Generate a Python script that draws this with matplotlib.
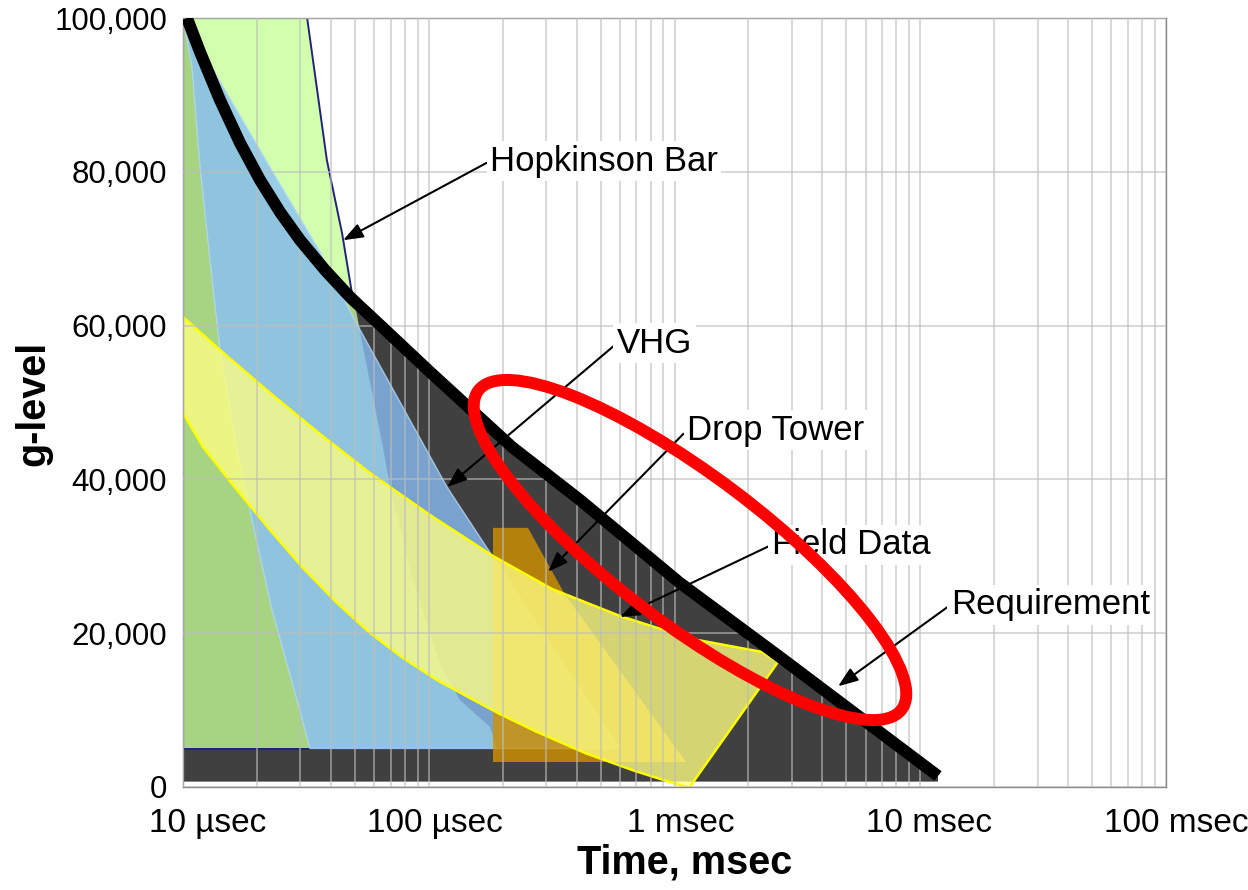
import numpy as np
import matplotlib
matplotlib.use("Agg")
import matplotlib.pyplot as plt
import matplotlib.transforms as mtransforms
from matplotlib.patches import Ellipse
from matplotlib.ticker import LogLocator, NullFormatter

plt.rcParams['font.family'] = ['Liberation Sans', 'DejaVu Sans']

# time in msec, g-level
req_t = [0.01038, 0.01173, 0.01414, 0.01706, 0.02058, 0.02481, 0.02993, 0.03783, 0.04781,
         0.06334, 0.1012, 0.2182, 0.4126, 1.053, 2.687, 11.81]
req_g = [100000, 95580, 89340, 83750, 78930, 74770, 71130, 67230, 63720,
         60080, 53970, 44210, 37320, 26530, 16900, 1430]
dark_floor = 700

hop_t = [0.01, 0.032, 0.0385, 0.0444, 0.0487, 0.0501, 0.054, 0.0593, 0.0651, 0.0696,
         0.0863, 0.111, 0.134, 0.1775, 0.19, 0.01]
hop_g = [100000, 100000, 81500, 72000, 64200, 62700, 57200, 50700, 44200, 39000,
         26900, 16100, 11300, 7800, 5000, 5000]

vhg_t = [0.01, 0.01088, 0.01173, 0.01288, 0.01414, 0.01628, 0.01909, 0.02302, 0.0291, 0.03287,
         0.60, 0.1826, 0.1187, 0.0492, 0.0361, 0.0226]
vhg_g = [100000, 93630, 80620, 68530, 56830, 45120, 34720, 23020, 11310, 5000,
         5000, 29900, 39000, 61100, 69600, 80600]

drop_t = [0.1826, 0.2534, 0.3585, 1.114, 0.1826]
drop_g = [33700, 33700, 25000, 3250, 3250]

field_upper_t = [0.01, 0.01414, 0.0226, 0.0361, 0.05767, 0.1012, 0.1826, 0.3173,
                 0.600, 1.178, 2.27, 2.637]
field_upper_g = [61120, 56830, 51240, 45900, 40830, 35370, 30040, 25750,
                 22240, 19250, 17560, 16260]
field_lower_t = [0.01, 0.01206, 0.01659, 0.0226, 0.03079, 0.04233, 0.05767, 0.07857,
                 0.108, 0.1472, 0.1949, 0.2706, 0.4323, 0.6908, 1.1455]
field_lower_g = [48630, 44210, 38620, 33420, 28480, 23930, 20030, 16780,
                 13910, 11570, 9490, 7280, 4420, 2080, -130]

x_ticks = [0.01, 0.1, 1, 10, 100]
x_labels = ['10 \u00b5sec', '100 \u00b5sec', '1 msec', '10 msec', '100 msec']
x_label_shift = [25, 6, 6, 9, 10]   # px
y_ticks = [0, 20000, 40000, 60000, 80000, 100000]

# label, text x, text y, arrow x, arrow y
notes = [
    ("Hopkinson Bar", 0.1775, 81400, 0.0448, 71100),
    ("VHG", 0.583, 57700, 0.1187, 39000),
    ("Drop Tower", 1.124, 46400, 0.306, 28000),
    ("Field Data", 2.49, 31500, 0.600, 22100),
    ("Requirement", 13.3, 23700, 4.63, 13100),
]

fig = plt.figure(figsize=(12.48, 8.9), dpi=100)
ax = fig.add_axes([183 / 1248, 1 - 787 / 890, 983 / 1248, 769 / 890])
ax.set_xscale('log')
ax.set_xlim(0.01, 100)
ax.set_ylim(0, 100000)

# dark area under requirement
ax.fill([0.01] + req_t + [req_t[-1], 0.01], [100000] + req_g + [dark_floor, dark_floor],
        color='#404040', lw=0, zorder=1.0)

# Hopkinson bar
ax.fill(hop_t, hop_g, color=(196 / 255, 1.0, 150 / 255), alpha=0.78, lw=0, zorder=1.1)
ax.plot([hop_t[-1]] + hop_t[:6], [hop_g[-1]] + hop_g[:6], color='#22227a', lw=1.4, zorder=1.15)
ax.plot(hop_t[-2:], hop_g[-2:], color='#22227a', lw=1.4, zorder=1.15)

# VHG
ax.fill(vhg_t, vhg_g, facecolor=(138 / 255, 191 / 255, 247 / 255), edgecolor='#b5d9f5',
        alpha=0.78, lw=1.0, zorder=1.2)

# Drop tower
ax.fill(drop_t, drop_g, color=(210 / 255, 146 / 255, 0), alpha=0.8, lw=0, zorder=1.3)

# Field data
field_t = field_upper_t + field_lower_t[::-1]
field_g = field_upper_g + field_lower_g[::-1]
ax.fill(field_t, field_g, facecolor=(1.0, 1.0, 130 / 255), alpha=0.78, lw=0, zorder=1.4)
ax.fill(field_t, field_g, facecolor='none', edgecolor='#ffff00', lw=1.8, zorder=1.45)

# requirement line
ax.plot(req_t, req_g, color='black', lw=8.6, solid_capstyle='butt', solid_joinstyle='round', zorder=3)

# grid and axes
ax.set_axisbelow(False)
ax.xaxis.set_minor_locator(LogLocator(base=10, subs=np.arange(2, 10)))
ax.xaxis.set_minor_formatter(NullFormatter())
ax.grid(which='both', axis='x', color='#bdbdbd', lw=1.1, alpha=0.75)
ax.grid(which='major', axis='y', color='#bdbdbd', lw=1.1, alpha=0.75)
ax.set_xticks(x_ticks)
ax.set_xticklabels(x_labels, fontsize=24)
ax.set_yticks(y_ticks)
ax.set_yticklabels([f"{v:,}" for v in y_ticks], fontsize=22.5)
ax.tick_params(which='both', length=0)
ax.tick_params(axis='x', pad=15)
ax.tick_params(axis='y', pad=11.5)
for lab, dx in zip(ax.get_xticklabels(), x_label_shift):
    lab.set_transform(lab.get_transform() + mtransforms.ScaledTranslation(dx / 100, 0, fig.dpi_scale_trans))
for sp in ax.spines.values():
    sp.set_color('#8a8a8a')
    sp.set_linewidth(1.0)

for label, tx, ty, px, py in notes:
    ax.annotate(label, xy=(px, py), xytext=(tx, ty), ha='left', va='center', fontsize=25,
                bbox=dict(boxstyle='square,pad=0.1', fc='white', ec='none'),
                arrowprops=dict(arrowstyle='-|>,head_length=0.8,head_width=0.3', color='black',
                                lw=1.5, shrinkA=0, shrinkB=0, mutation_scale=15, relpos=(0, 0.5)),
                zorder=5)

fig.text(33 / 1248, 1 - 403 / 890, 'g-level', rotation=90, ha='center', va='center',
         fontsize=28.5, fontweight='bold')
fig.text(685 / 1248, 1 - 863 / 890, 'Time, msec', ha='center', va='center',
         fontsize=28.5, fontweight='bold')

# red highlight ellipse (figure pixel overlay)
over = fig.add_axes([0, 0, 1, 1], facecolor='none')
over.set_xlim(0, 1248)
over.set_ylim(890, 0)
over.axis('off')
over.add_patch(Ellipse((690, 550), 530, 148, angle=37, fill=False, ec='#ff0000', lw=8.6))

fig.savefig('out.png', dpi=100)
